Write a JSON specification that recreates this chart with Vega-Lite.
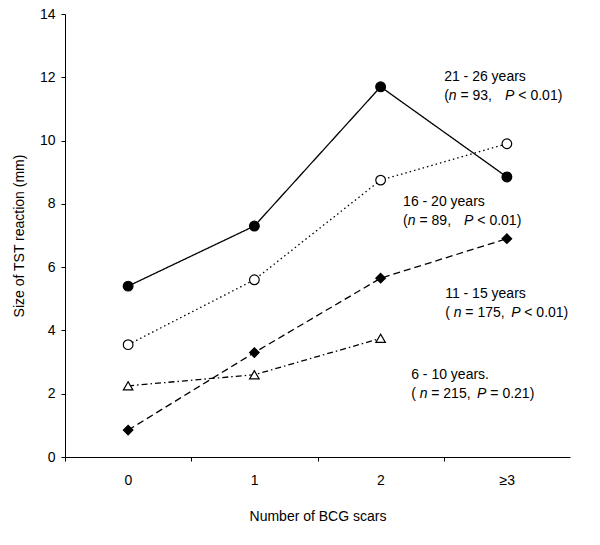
{
  "$schema": "https://vega.github.io/schema/vega-lite/v6.json",
  "width": 505,
  "height": 443,
  "autosize": "none",
  "padding": {"left": 65, "top": 14, "right": 30, "bottom": 88},
  "background": "white",
  "config": {
    "view": {"stroke": null},
    "font": "Liberation Sans",
    "axis": {"grid": false, "domainColor": "black", "tickColor": "black", "labelColor": "black", "titleColor": "black", "labelFont": "Liberation Sans", "titleFont": "Liberation Sans", "titleFontWeight": "normal"}
  },
  "datasets": {
    "pts": [
      {"group": "21 - 26 years", "scars": 0, "tst": 5.4},
      {"group": "21 - 26 years", "scars": 1, "tst": 7.3},
      {"group": "21 - 26 years", "scars": 2, "tst": 11.7},
      {"group": "21 - 26 years", "scars": 3, "tst": 8.85},
      {"group": "16 - 20 years", "scars": 0, "tst": 3.55},
      {"group": "16 - 20 years", "scars": 1, "tst": 5.6},
      {"group": "16 - 20 years", "scars": 2, "tst": 8.75},
      {"group": "16 - 20 years", "scars": 3, "tst": 9.9},
      {"group": "11 - 15 years", "scars": 0, "tst": 0.85},
      {"group": "11 - 15 years", "scars": 1, "tst": 3.3},
      {"group": "11 - 15 years", "scars": 2, "tst": 5.65},
      {"group": "11 - 15 years", "scars": 3, "tst": 6.9},
      {"group": "6 - 10 years", "scars": 0, "tst": 2.25},
      {"group": "6 - 10 years", "scars": 1, "tst": 2.6},
      {"group": "6 - 10 years", "scars": 2, "tst": 3.75}
    ],
    "labels": [
      {"text": "21 - 26 years", "x": 2.503, "y": 12.0, "italic": false},
      {"text": "(", "x": 2.503, "y": 11.4, "italic": false},
      {"text": "n", "x": 2.540, "y": 11.4, "italic": true},
      {"text": "= 93,", "x": 2.632, "y": 11.4, "italic": false},
      {"text": "P", "x": 2.986, "y": 11.4, "italic": true},
      {"text": "< 0.01)", "x": 3.091, "y": 11.4, "italic": false},
      {"text": "16 - 20 years", "x": 2.178, "y": 8.05, "italic": false},
      {"text": "(", "x": 2.178, "y": 7.45, "italic": false},
      {"text": "n", "x": 2.215, "y": 7.45, "italic": true},
      {"text": "= 89,", "x": 2.308, "y": 7.45, "italic": false},
      {"text": "P", "x": 2.661, "y": 7.45, "italic": true},
      {"text": "< 0.01)", "x": 2.766, "y": 7.45, "italic": false},
      {"text": "11 - 15 years", "x": 2.511, "y": 5.15, "italic": false},
      {"text": "(", "x": 2.511, "y": 4.55, "italic": false},
      {"text": "n", "x": 2.579, "y": 4.55, "italic": true},
      {"text": "= 175,", "x": 2.671, "y": 4.55, "italic": false},
      {"text": "P", "x": 3.034, "y": 4.55, "italic": true},
      {"text": "< 0.01)", "x": 3.138, "y": 4.55, "italic": false},
      {"text": "6 - 10 years.", "x": 2.242, "y": 2.6, "italic": false},
      {"text": "(", "x": 2.242, "y": 2.0, "italic": false},
      {"text": "n", "x": 2.309, "y": 2.0, "italic": true},
      {"text": "= 215,", "x": 2.401, "y": 2.0, "italic": false},
      {"text": "P", "x": 2.764, "y": 2.0, "italic": true},
      {"text": "= 0.21)", "x": 2.869, "y": 2.0, "italic": false}
    ]
  },
  "layer": [
    {
      "data": {"name": "pts"},
      "mark": {"type": "line", "color": "black", "strokeWidth": 1.3},
      "encoding": {
        "x": {"field": "scars", "type": "quantitative",
          "scale": {"domain": [-0.5, 3.5], "nice": false, "zero": false},
          "axis": {"values": [-0.5, 0.5, 1.5, 2.5], "labelExpr": "datum.value < 0 ? '0' : datum.value < 1 ? '1' : datum.value < 2 ? '2' : '≥3'", "labelOffset": 63, "tickSize": 4, "labelPadding": 12, "labelFontSize": 14, "title": "Number of BCG scars", "titleFontSize": 14, "titlePadding": 22, "labelFlush": false}},
        "y": {"field": "tst", "type": "quantitative",
          "scale": {"domain": [0, 14], "nice": false},
          "axis": {"values": [0, 2, 4, 6, 8, 10, 12, 14], "tickSize": 4, "labelPadding": 6, "labelFontSize": 14, "title": "Size of TST reaction (mm)", "titleFontSize": 14, "titlePadding": 13}},
        "detail": {"field": "group"},
        "strokeDash": {"field": "group", "type": "nominal",
          "scale": {"domain": ["21 - 26 years", "16 - 20 years", "11 - 15 years", "6 - 10 years"], "range": [[1, 0], [1.5, 3], [7, 4], [6, 3, 1.5, 3]]},
          "legend": null}
      }
    },
    {
      "data": {"name": "pts"},
      "mark": {"type": "point", "stroke": "black", "strokeWidth": 1.2, "opacity": 1},
      "encoding": {
        "x": {"field": "scars", "type": "quantitative"},
        "y": {"field": "tst", "type": "quantitative"},
        "shape": {"field": "group", "type": "nominal",
          "scale": {"domain": ["21 - 26 years", "16 - 20 years", "11 - 15 years", "6 - 10 years"], "range": ["circle", "circle", "diamond", "triangle-up"]},
          "legend": null},
        "size": {"field": "group", "type": "nominal",
          "scale": {"domain": ["21 - 26 years", "16 - 20 years", "11 - 15 years", "6 - 10 years"], "range": [95, 90, 110, 115]},
          "legend": null},
        "fill": {"field": "group", "type": "nominal",
          "scale": {"domain": ["21 - 26 years", "16 - 20 years", "11 - 15 years", "6 - 10 years"], "range": ["black", "white", "black", "white"]},
          "legend": null}
      }
    },
    {
      "data": {"name": "labels"},
      "transform": [{"filter": "!datum.italic"}],
      "mark": {"type": "text", "align": "left", "baseline": "middle", "fontSize": 14, "color": "black", "font": "Liberation Sans"},
      "encoding": {
        "x": {"field": "x", "type": "quantitative"},
        "y": {"field": "y", "type": "quantitative"},
        "text": {"field": "text"}
      }
    },
    {
      "data": {"name": "labels"},
      "transform": [{"filter": "datum.italic"}],
      "mark": {"type": "text", "align": "left", "baseline": "middle", "fontSize": 14, "fontStyle": "italic", "color": "black", "font": "Liberation Sans"},
      "encoding": {
        "x": {"field": "x", "type": "quantitative"},
        "y": {"field": "y", "type": "quantitative"},
        "text": {"field": "text"}
      }
    }
  ]
}
